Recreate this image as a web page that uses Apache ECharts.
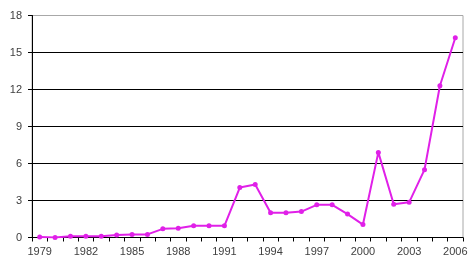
<!DOCTYPE html>
<html><head><meta charset="utf-8">
<script src="https://cdn.jsdelivr.net/npm/echarts@6/dist/echarts.min.js"></script>
<style>html,body{margin:0;padding:0;background:#fff}#c{width:476px;height:271px}</style>
</head><body><div id="c"></div>
<script>
const years = ['1979','1980','1981','1982','1983','1984','1985','1986','1987','1988','1989','1990','1991','1992','1993','1994','1995','1996','1997','1998','1999','2000','2001','2002','2003','2004','2005','2006'];
const values = [0.05,0.0,0.1,0.1,0.1,0.2,0.25,0.25,0.7,0.75,0.95,0.95,0.95,4.05,4.3,2.0,2.0,2.1,2.65,2.65,1.9,1.05,6.9,2.7,2.85,5.5,12.3,16.2];
const yTicks = [0,3,6,9,12,15,18];

const chart = echarts.init(document.getElementById('c'), null, {renderer:'canvas'});
chart.setOption({
  animation:false,
  grid:{left:32,right:13,top:15.5,bottom:33.5,show:true,borderColor:'#a8a8a8',borderWidth:1},
  xAxis:{
    type:'category', data:years, boundaryGap:true,
    axisLine:{lineStyle:{color:'#000',width:1}},
    axisTick:{show:true,interval:0,length:4,lineStyle:{color:'#000'}},
    axisLabel:{interval:2,color:'#404040',fontFamily:'Liberation Sans, Arial',fontSize:11,margin:9}
  },
  yAxis:{
    type:'value', min:yTicks[0], max:yTicks[yTicks.length-1], interval:3,
    axisLine:{show:true,lineStyle:{color:'#000',width:1}},
    axisTick:{show:true,length:4,lineStyle:{color:'#000'}},
    axisLabel:{color:'#404040',fontFamily:'Liberation Sans, Arial',fontSize:11,margin:10},
    splitLine:{show:true,lineStyle:{color:['#000','#000','#000','#000','#000','#000','#a8a8a8'],width:1}}
  },
  series:[{
    type:'line', data:values,
    symbol:'circle', symbolSize:5,
    lineStyle:{color:'#e020e8',width:2},
    itemStyle:{color:'#e020e8'}
  }]
});
</script></body></html>
